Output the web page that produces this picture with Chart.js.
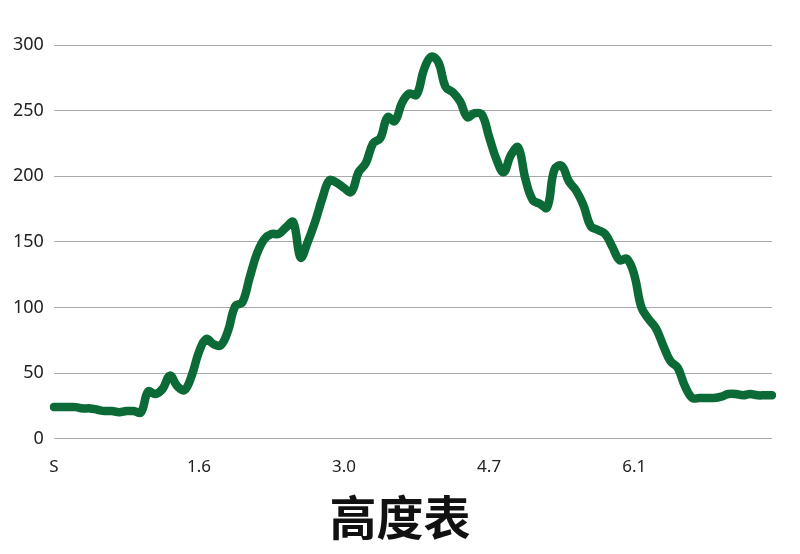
<!DOCTYPE html>
<html>
<head>
<meta charset="utf-8">
<script src="https://cdn.jsdelivr.net/npm/chart.js@4"></script>
<style>
  html, body { margin: 0; padding: 0; background: #fff; }
  #wrap { width: 800px; height: 554px; }
</style>
</head>
<body>
<div id="wrap"><canvas id="elev" width="800" height="554"></canvas></div>
<script>
// elevation samples, evenly spaced along the route
const elevation = [
  24, 24, 24, 24, 23, 23, 22, 21, 21, 20,
  21, 21, 20, 36, 34, 38, 48, 40, 37, 48,
  66, 76, 72, 71, 82, 101, 104, 123, 141, 152,
  156, 156, 161, 165, 138, 150, 165, 183, 197, 195,
  191, 188, 203, 210, 225, 229, 245, 242, 256, 263,
  262, 281, 291, 287, 268, 264, 257, 245, 248, 247,
  230, 213, 203, 216, 222, 198, 182, 179, 176, 205,
  208, 196, 189, 178, 162, 159, 156, 146, 136, 137,
  125, 100, 91, 84, 71, 59, 54, 40, 31, 31,
  31, 31, 32, 34, 34, 33, 34, 33, 33, 33
];
// distance labels shown every 20 samples
const xTickLabels = ['S', '1.6', '3.0', '4.7', '6.1'];
const tickEvery = 20;
const yTicks = [0, 50, 100, 150, 200, 250, 300];
const chartTitle = '高度表';

// title centred on the whole canvas, under the x axis
const bottomTitle = {
  id: 'bottomTitle',
  afterDraw(chart) {
    const ctx = chart.ctx;
    ctx.save();
    ctx.font = 'bold 47px "Noto Sans CJK SC"';
    ctx.fillStyle = '#111';
    ctx.textAlign = 'center';
    ctx.textBaseline = 'middle';
    ctx.fillText(chartTitle, chart.width / 2, 517);
    ctx.restore();
  }
};

const labels = elevation.map((_, i) => i);

new Chart(document.getElementById('elev'), {
  type: 'line',
  data: {
    labels,
    datasets: [{
      data: elevation,
      borderColor: '#0b6a36',
      borderWidth: 8.5,
      borderCapStyle: 'round',
      borderJoinStyle: 'round',
      pointRadius: 0,
      tension: 0.4,
      fill: false
    }]
  },
  plugins: [bottomTitle],
  options: {
    responsive: false,
    animation: false,
    layout: { padding: { top: 45, right: 28, left: 3, bottom: 59 } },
    plugins: { legend: { display: false }, tooltip: { enabled: false } },
    scales: {
      x: {
        grid: { display: false, drawTicks: false },
        border: { display: false },
        ticks: {
          autoSkip: false,
          maxRotation: 0,
          padding: 18,
          color: '#222',
          font: { family: 'Noto Sans', size: 17 },
          callback: (v, i) => i % tickEvery === 0 ? (xTickLabels[i / tickEvery] ?? '') : ''
        }
      },
      y: {
        min: 0,
        max: 300,
        afterBuildTicks: ax => { ax.ticks = yTicks.map(v => ({ value: v })); },
        grid: { color: '#aaaaaa', lineWidth: 1, drawTicks: false },
        border: { display: false },
        ticks: {
          padding: 10,
          color: '#222',
          font: { family: 'Noto Sans', size: 18 }
        }
      }
    }
  }
});
</script>
</body>
</html>
